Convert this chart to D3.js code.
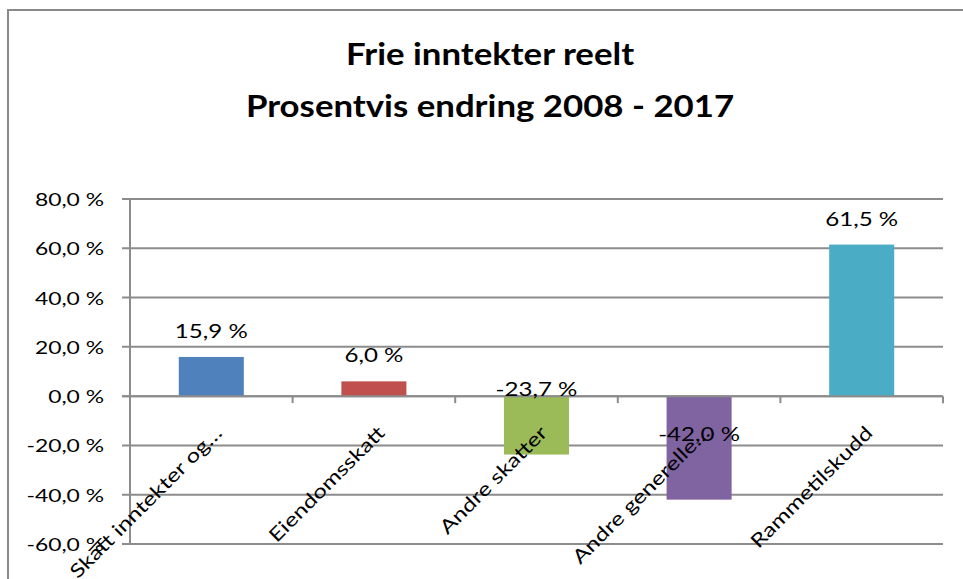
<!DOCTYPE html>
<html>
<head>
<meta charset="utf-8">
<script src="https://cdn.jsdelivr.net/npm/d3@7"></script>
<style>
body { margin: 0; background: #fff; }
text { font-family: Lato, "Open Sans", sans-serif; fill: #000; }
</style>
</head>
<body>
<div id="root"></div>
<script>
var width = 963;
var height = 579;

// data
var categories = ["Skatt inntekter og…", "Eiendomsskatt", "Andre skatter", "Andre generelle…", "Rammetilskudd"];
var values = [15.9, 6.0, -23.7, -42.0, 61.5];
var barColors = ["#4f81bd", "#c0504d", "#9bbb59", "#8064a2", "#4bacc6"];
var yTicks = [-60, -40, -20, 0, 20, 40, 60, 80];
var titleLines = ["Frie inntekter reelt", "Prosentvis endring 2008 - 2017"];

// the original text is drawn wide, so stretch glyphs horizontally
var stretch = 1.27;

var svg = d3.select("#root")
.append("svg")
.attr("width", width)
.attr("height", height);

// chart border (right and bottom edges fall outside the picture)
svg.append("rect")
.attr("x", 8)
.attr("y", 10)
.attr("width", 1000)
.attr("height", 1000)
.attr("fill", "none")
.attr("stroke", "#898989")
.attr("stroke-width", 2);

var left = 130, right = 943;

var y = d3.scaleLinear()
.domain([-60, 80])
.range([544, 199]);

var x = d3.scaleBand()
.domain(categories)
.range([left, right]);

var fmt = function(v) {
	return v.toFixed(1).replace(".", ",") + " %";
};

// gridlines
svg.append("g")
.selectAll("line")
.data(yTicks)
.enter()
.append("line")
.attr("x1", left - 8)
.attr("x2", right)
.attr("y1", function(d) { return y(d); })
.attr("y2", function(d) { return y(d); })
.attr("stroke", "#8c8c8c")
.attr("stroke-width", 2);

// y axis line
svg.append("line")
.attr("x1", left).attr("x2", left)
.attr("y1", y(80)).attr("y2", y(-60))
.attr("stroke", "#8c8c8c")
.attr("stroke-width", 2);

// y tick labels
svg.append("g")
.selectAll("text")
.data(yTicks)
.enter()
.append("text")
.attr("transform", function(d) {
	return "translate(104," + (y(d) + 7) + ") scale(" + stretch + ",1)";
})
.attr("text-anchor", "end")
.attr("font-size", "18px")
.text(fmt);

// category ticks along the zero line
svg.append("g")
.selectAll("line")
.data(categories.concat(["end"]))
.enter()
.append("line")
.attr("x1", function(d, i) { return left + i * x.bandwidth(); })
.attr("x2", function(d, i) { return left + i * x.bandwidth(); })
.attr("y1", y(0))
.attr("y2", y(0) + 7)
.attr("stroke", "#8c8c8c")
.attr("stroke-width", 2);

var bw = x.bandwidth() * 0.4;

// bars
svg.append("g")
.selectAll("rect")
.data(values)
.enter()
.append("rect")
.attr("x", function(d, i) { return x(categories[i]) + x.bandwidth() / 2 - bw / 2; })
.attr("y", function(d) { return y(Math.max(0, d)); })
.attr("width", bw)
.attr("height", function(d) { return Math.abs(y(d) - y(0)); })
.attr("fill", function(d, i) { return barColors[i]; });

// zero line drawn over bars
svg.append("line")
.attr("x1", left - 8).attr("x2", right)
.attr("y1", y(0)).attr("y2", y(0))
.attr("stroke", "#8c8c8c")
.attr("stroke-width", 2);

// category labels, rotated
svg.append("g")
.selectAll("text")
.data(categories)
.enter()
.append("text")
.attr("text-anchor", "end")
.attr("font-size", "19px")
.attr("transform", function(d) {
	var cx = x(d) + x.bandwidth() / 2;
	return "translate(" + (cx + 12) + "," + (y(0) + 38) + ") rotate(-45) scale(" + stretch + ",1)";
})
.text(function(d) { return d; });

// data labels
svg.append("g")
.selectAll("text")
.data(values)
.enter()
.append("text")
.attr("transform", function(d, i) {
	var cx = x(categories[i]) + x.bandwidth() / 2;
	var ty = d >= 0 ? y(d) - 19 : y(d) - 59;
	return "translate(" + cx + "," + ty + ") scale(" + stretch + ",1)";
})
.attr("text-anchor", "middle")
.attr("font-size", "19px")
.text(fmt);

// title
svg.append("g")
.selectAll("text")
.data(titleLines)
.enter()
.append("text")
.attr("transform", function(d, i) {
	return "translate(490," + (65 + i * 52) + ") scale(1.16,1)";
})
.attr("text-anchor", "middle")
.attr("font-size", "30px")
.attr("font-weight", "bold")
.text(function(d) { return d; });
</script>
</body>
</html>
